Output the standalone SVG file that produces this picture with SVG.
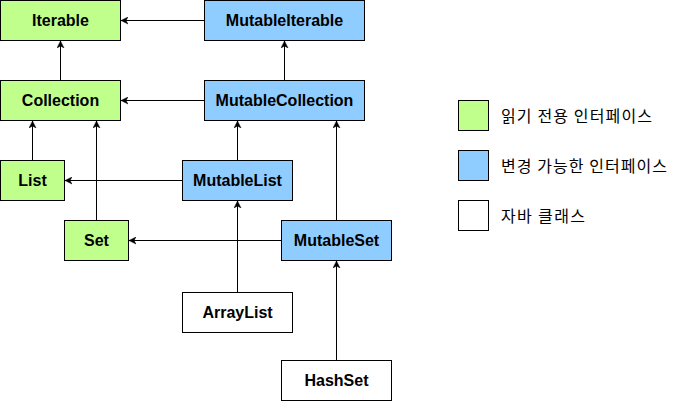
<svg xmlns="http://www.w3.org/2000/svg" width="675" height="401" viewBox="0 0 675 401">
<defs>
<style>
.box{stroke:#000;stroke-width:1}
.ro{fill:#C1FF8C}
.mu{fill:#8FCCFF}
.jv{fill:#FFFFFF}
.lbl{font-family:"Liberation Sans",Arial,sans-serif;font-weight:bold;font-size:16px;fill:#000;text-anchor:middle}
.leg{font-family:"Noto Sans CJK KR","Noto Sans",sans-serif;font-size:16px;fill:#000}
.edge{stroke:#000;stroke-width:1;fill:none;marker-end:url(#arr)}
</style>
<marker id="arr" markerUnits="userSpaceOnUse" markerWidth="8" markerHeight="8" viewBox="0 0 8 8" refX="7" refY="4" orient="auto">
<path d="M0,0.5 L7,4 L0,7.5 L2,4 Z" fill="#000" stroke="#000" stroke-width="0.5"/>
</marker>
</defs>
<g id="connectors">
<path class="edge" d="M204.5,20.5 H121"/>
<path class="edge" d="M60.5,80.5 V41"/>
<path class="edge" d="M284.5,80.5 V41"/>
<path class="edge" d="M204.5,100.5 H121"/>
<path class="edge" d="M32.5,160.5 V121"/>
<path class="edge" d="M96.5,220.5 V121"/>
<path class="edge" d="M237.5,160.5 V121"/>
<path class="edge" d="M336.5,220.5 V121"/>
<path class="edge" d="M182.5,180.5 H65"/>
<path class="edge" d="M281.5,240.5 H129"/>
<path class="edge" d="M237.5,292.5 V201"/>
<path class="edge" d="M336.5,360.5 V261"/>
</g>
<g id="Iterable"><rect class="box ro" x="0.5" y="0.5" width="120" height="40"/><text class="lbl" x="60.5" y="26">Iterable</text></g>
<g id="MutableIterable"><rect class="box mu" x="204.5" y="0.5" width="160" height="40"/><text class="lbl" x="284.5" y="26">MutableIterable</text></g>
<g id="Collection"><rect class="box ro" x="0.5" y="80.5" width="120" height="40"/><text class="lbl" x="60.5" y="106">Collection</text></g>
<g id="MutableCollection"><rect class="box mu" x="204.5" y="80.5" width="160" height="40"/><text class="lbl" x="284.5" y="106">MutableCollection</text></g>
<g id="List"><rect class="box ro" x="0.5" y="160.5" width="64" height="40"/><text class="lbl" x="32.5" y="186">List</text></g>
<g id="MutableList"><rect class="box mu" x="182.5" y="160.5" width="110" height="40"/><text class="lbl" x="237.5" y="186">MutableList</text></g>
<g id="Set"><rect class="box ro" x="64.5" y="220.5" width="64" height="40"/><text class="lbl" x="96.5" y="246">Set</text></g>
<g id="MutableSet"><rect class="box mu" x="281.5" y="220.5" width="110" height="40"/><text class="lbl" x="336.5" y="246">MutableSet</text></g>
<g id="ArrayList"><rect class="box jv" x="182.5" y="292.5" width="110" height="40"/><text class="lbl" x="237.5" y="318">ArrayList</text></g>
<g id="HashSet"><rect class="box jv" x="281.5" y="360.5" width="110" height="40"/><text class="lbl" x="336.5" y="386">HashSet</text></g>
<g id="legend">
<rect class="box ro" x="458.5" y="100.5" width="30" height="30"/>
<text class="leg" x="501" y="121.5" textLength="151" lengthAdjust="spacing">읽기 전용 인터페이스</text>
<rect class="box mu" x="458.5" y="150.5" width="30" height="30"/>
<text class="leg" x="501" y="171.5" textLength="166" lengthAdjust="spacing">변경 가능한 인터페이스</text>
<rect class="box jv" x="458.5" y="200.5" width="30" height="30"/>
<text class="leg" x="501" y="221.5" textLength="84" lengthAdjust="spacing">자바 클래스</text>
</g>
</svg>
